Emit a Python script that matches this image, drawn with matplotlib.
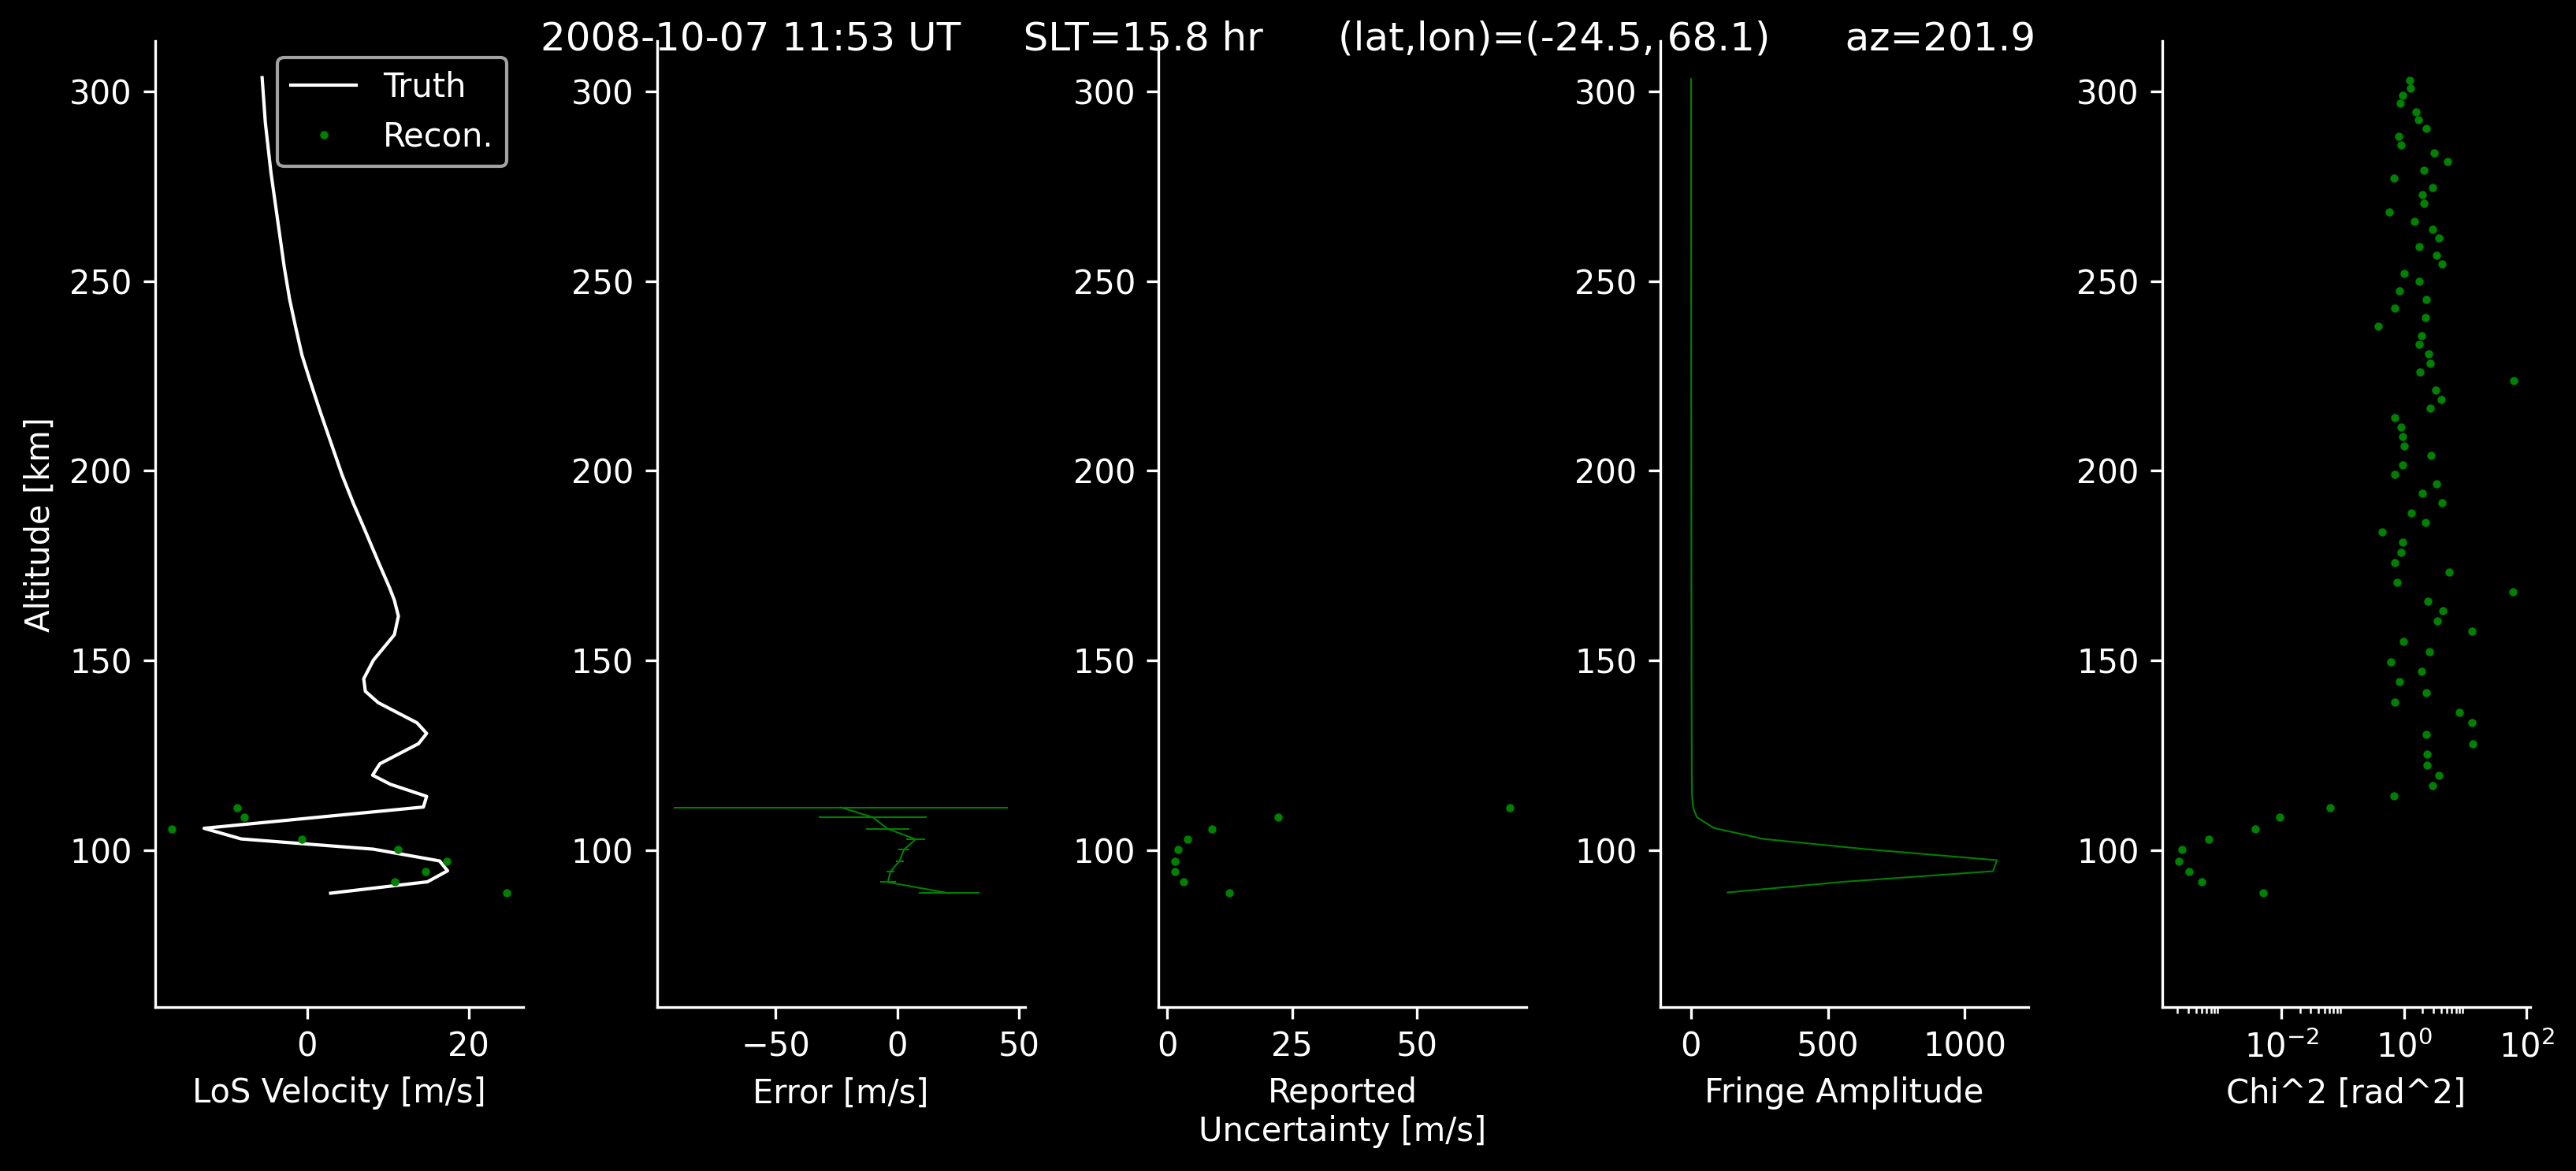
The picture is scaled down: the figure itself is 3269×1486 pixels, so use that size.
import matplotlib
matplotlib.use("Agg")
import matplotlib.pyplot as plt
from matplotlib.ticker import FixedLocator, NullFormatter

# Truth LoS velocity profile
truth_alt = [303.6, 291.7, 278.5, 261.9, 253.6, 245.3, 237.9, 230.5, 223.8, 215.6,
             207.3, 199.0, 191.5, 184.1, 175.8, 169.2, 165.9, 161.7, 156.8, 150.1,
             145.2, 141.9, 138.9, 133.6, 130.8, 128.1, 122.8, 119.8, 117.4, 114.5,
             114.2, 111.4, 105.8, 103.0, 100.3, 97.2, 94.6, 91.7, 88.7]
truth_vel = [-5.6, -5.2, -4.5, -3.4, -2.85, -2.2, -1.45, -0.66, 0.33, 1.6,
             2.95, 4.3, 5.7, 7.2, 8.85, 10.2, 10.8, 11.3, 10.8, 8.2,
             7.0, 7.2, 8.8, 13.6, 14.8, 13.8, 9.0, 8.1, 10.3, 14.4,
             14.8, 14.4, -12.8, -8.2, 8.2, 16.4, 17.4, 14.9, 2.9]

# Reconstruction at the lowest tangent altitudes
recon_alt = [111.3, 108.7, 105.7, 102.9, 100.2, 97.2, 94.4, 91.6, 88.7]
recon_vel = [-8.7, -7.8, -16.8, -0.7, 11.2, 17.3, 14.7, 10.9, 24.7]
recon_err = [-23.2, -10.1, -4.1, 7.5, 2.7, 0.9, -2.9, -3.9, 21.2]
recon_unc = [68.7, 22.3, 8.9, 4.0, 2.2, 1.6, 1.6, 3.2, 12.4]

# Fringe amplitude profile
fringe_alt = [303.3, 250.0, 200.0, 150.0, 120.0, 114.3, 111.2, 108.7, 105.9,
              103.0, 100.3, 97.4, 94.5, 91.7, 88.9]
fringe_amp = [0.5, 0.8, 1.2, 2.0, 3.0, 4.0, 8.0, 22.0, 83.0,
              264.0, 640.0, 1118.0, 1104.0, 557.0, 134.0]

# Chi^2 at every tangent altitude
chi_alt = [302.98, 300.9, 298.85, 296.8, 294.5, 292.5, 290.2, 288.1, 285.8, 283.7,
           281.5, 279.3, 277.1, 274.7, 272.7, 270.4, 268.1, 265.8, 263.6, 261.3,
           259.0, 256.7, 254.4, 252.1, 249.9, 247.4, 245.1, 242.8, 240.3, 238.1,
           235.7, 233.3, 230.9, 228.4, 226.0, 223.7, 221.2, 218.7, 216.5, 214.0,
           211.5, 209.0, 206.5, 204.0, 201.5, 199.0, 196.5, 194.0, 191.5, 188.8,
           186.3, 183.8, 181.1, 178.6, 175.9, 173.4, 170.7, 168.2, 165.6, 163.1,
           160.4, 157.7, 155.0, 152.3, 149.7, 147.1, 144.4, 141.6, 139.0, 136.3,
           133.6, 130.6, 128.0, 125.3, 122.5, 119.7, 117.0, 114.3, 111.3, 108.7,
           105.7, 102.9, 100.2, 97.2, 94.4, 91.6, 88.7]
chi2 = [1.25, 1.28, 0.95, 0.87, 1.58, 1.72, 2.31, 0.81, 0.90, 3.11,
        5.18, 2.12, 0.68, 2.95, 2.00, 2.12, 0.58, 1.48, 2.95, 3.73,
        1.77, 3.36, 4.19, 1.01, 1.77, 0.84, 2.31, 0.70, 2.26, 0.38,
        1.95, 1.77, 2.55, 2.63, 1.83, 60.8, 3.32, 4.06, 2.69, 0.70,
        0.89, 0.94, 1.01, 2.77, 0.94, 0.70, 3.43, 1.97, 4.19, 1.32,
        2.24, 0.44, 0.95, 0.90, 0.70, 5.35, 0.77, 59.4, 2.47, 4.33,
        3.50, 13.0, 0.98, 2.60, 0.61, 1.93, 0.84, 2.31, 0.70, 8.09,
        13.0, 2.31, 13.3, 2.39, 2.39, 3.73, 2.95, 0.68, 0.062, 0.0092,
        0.0037, 0.00065, 0.00024, 0.00021, 0.00031, 0.00050, 0.0050]

title = "2008-10-07 11:53 UT     SLT=15.8 hr      (lat,lon)=(-24.5, 68.1)      az=201.9"

plt.style.use("dark_background")
fig, axes = plt.subplots(1, 5, figsize=(3269 / 300, 1486 / 300), dpi=300)
fig.subplots_adjust(left=0.0602, right=0.9822, bottom=0.1397, top=0.9648, wspace=0.363)

ax = axes[0]
ax.plot(truth_vel, truth_alt, color="w", lw=1, label="Truth")
ax.plot(recon_vel, recon_alt, "g.", ms=3, label="Recon.")
ax.set_xlabel("LoS Velocity [m/s]")
ax.set_ylabel("Altitude [km]")
ax.legend(loc="upper right")

ax = axes[1]
ax.errorbar(recon_err, recon_alt, xerr=recon_unc, color="g", lw=0.5)
ax.set_xlabel("Error [m/s]")
ax.set_xticks([-50, 0, 50])

ax = axes[2]
ax.plot(recon_unc, recon_alt, "g.", ms=3)
ax.set_xlabel("Reported\nUncertainty [m/s]")
ax.set_xticks([0, 25, 50])

ax = axes[3]
ax.plot(fringe_amp, fringe_alt, color="g", lw=0.5)
ax.set_xlabel("Fringe Amplitude")
ax.set_xlim(-112, 1233)
ax.set_xticks([0, 500, 1000])

ax = axes[4]
ax.semilogx(chi2, chi_alt, "g.", ms=3)
ax.set_xlabel("Chi^2 [rad^2]")
ax.xaxis.set_major_locator(FixedLocator([1e-2, 1e0, 1e2]))
ax.xaxis.set_minor_locator(FixedLocator([k * 10.0 ** d for d in (-4, -2, 0) for k in range(2, 10)]))
ax.xaxis.set_minor_formatter(NullFormatter())

for ax in axes:
    ax.set_ylim(58.6, 313.2)
    ax.set_yticks([100, 150, 200, 250, 300])
    ax.spines["top"].set_visible(False)
    ax.spines["right"].set_visible(False)

fig.suptitle(title, y=1 - 26 / 1486, va="top", fontsize=12)

fig.savefig("out.png", dpi=300)
